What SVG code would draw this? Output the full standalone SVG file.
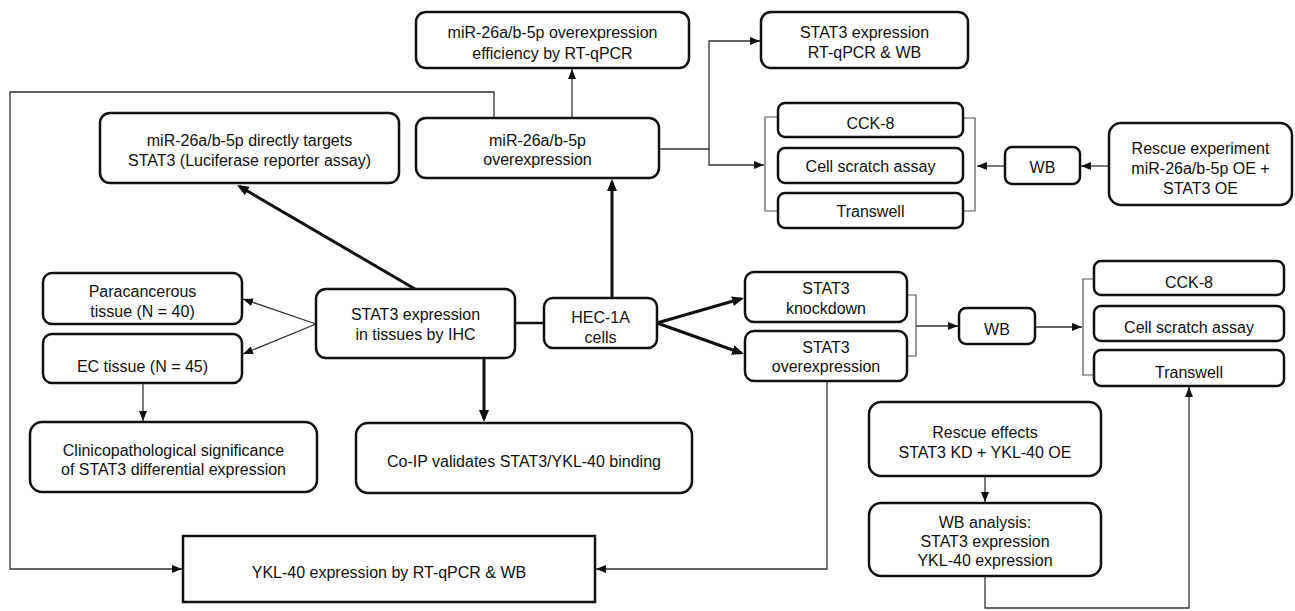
<svg xmlns="http://www.w3.org/2000/svg" width="1295" height="611" viewBox="0 0 1295 611">
  <defs>
    <style>
      .box { fill: #fff; stroke: #111; stroke-width: 2.5; }
      .t { font-family: "Liberation Sans", Arial, Helvetica, sans-serif; font-size: 16px; fill: #111; text-anchor: middle; }
      .ln { fill: none; stroke: #333; stroke-width: 1.3; }
      .lnB { fill: none; stroke: #111; stroke-width: 3; }
      .br { fill: none; stroke: #555; stroke-width: 1.2; }
    </style>
    <marker id="arr" markerUnits="userSpaceOnUse" markerWidth="11" markerHeight="9" refX="10" refY="4" orient="auto">
      <path d="M0,0 L10,4 L0,8 z" fill="#111"/>
    </marker>
    <marker id="arrB" markerUnits="userSpaceOnUse" markerWidth="13" markerHeight="11" refX="9" refY="5" orient="auto">
      <path d="M0,0 L12,5 L0,10 z" fill="#111"/>
    </marker>
  </defs>
  <rect width="1295" height="611" fill="#fff"/>

  <!-- connectors -->
  <g id="connectors">
    <path class="ln" d="M572,118 V69" marker-end="url(#arr)"/>
    <path class="ln" d="M494,118 V92 H10 V569 H182" marker-end="url(#arr)"/>
    <path class="ln" d="M659,149 H709 V41 H760" marker-end="url(#arr)"/>
    <path class="ln" d="M709,149 V165 H764" marker-end="url(#arr)"/>
    <path class="br" d="M778,117 H765 V211 H778"/>
    <path class="br" d="M963,118 H975 V211 H963"/>
    <path class="ln" d="M1005,166 H977" marker-end="url(#arr)"/>
    <path class="ln" d="M1109,166 H1081" marker-end="url(#arr)"/>
    <path class="ln" d="M316,324 L243,299" marker-end="url(#arr)"/>
    <path class="ln" d="M316,324 L243,354" marker-end="url(#arr)"/>
    <path class="ln" d="M143,383 V421" marker-end="url(#arr)"/>
    <path class="lnB" style="stroke-width:2.5" d="M515,323 H544"/>
    <path class="lnB" d="M415,289 L239.6,186.5" marker-end="url(#arrB)"/>
    <path class="lnB" d="M612,298 V182" marker-end="url(#arrB)"/>
    <path class="lnB" d="M657,323 L741.1,298.8" marker-end="url(#arrB)"/>
    <path class="lnB" d="M657,323 L741.2,353" marker-end="url(#arrB)"/>
    <path class="lnB" d="M484,358 V419" marker-end="url(#arrB)"/>
    <path class="br" d="M907,295 H916 V356 H907"/>
    <path class="ln" d="M916,326 H958" marker-end="url(#arr)"/>
    <path class="ln" d="M1035,327 H1082" marker-end="url(#arr)"/>
    <path class="br" d="M1094,279 H1083 V375 H1094"/>
    <path class="ln" d="M827,381 V569 H596" marker-end="url(#arr)"/>
    <path class="ln" d="M985,476 V502" marker-end="url(#arr)"/>
    <path class="ln" d="M985,576 V608 H1189 V387" marker-end="url(#arr)"/>
  </g>

  <!-- nodes -->
  <g id="mir-efficiency">
    <rect class="box" x="416" y="12" width="273" height="56" rx="10"/>
    <text class="t" x="552.5" y="37.5">miR-26a/b-5p overexpression</text>
    <text class="t" x="552.5" y="58.5">efficiency by RT-qPCR</text>
  </g>
  <g id="stat3-expression">
    <rect class="box" x="761" y="12" width="207" height="56" rx="10"/>
    <text class="t" x="864.5" y="37.5">STAT3 expression</text>
    <text class="t" x="864.5" y="57.5">RT-qPCR &amp; WB</text>
  </g>
  <g id="mir-targets">
    <rect class="box" x="100" y="113" width="299" height="70" rx="10"/>
    <text class="t" x="249.5" y="145.5">miR-26a/b-5p directly targets</text>
    <text class="t" x="249.5" y="165.5">STAT3 (Luciferase reporter assay)</text>
  </g>
  <g id="mir-overexpression">
    <rect class="box" x="416" y="118" width="243" height="60" rx="10"/>
    <text class="t" x="537.5" y="145.5">miR-26a/b-5p</text>
    <text class="t" x="537.5" y="164.5">overexpression</text>
  </g>
  <g id="cck8-a">
    <rect class="box" x="778" y="103" width="185" height="34" rx="7"/>
    <text class="t" x="870.5" y="128.5">CCK-8</text>
  </g>
  <g id="scratch-a">
    <rect class="box" x="778" y="148" width="185" height="35" rx="7"/>
    <text class="t" x="870.5" y="171.5">Cell scratch assay</text>
  </g>
  <g id="transwell-a">
    <rect class="box" x="778" y="193" width="185" height="35" rx="7"/>
    <text class="t" x="870.5" y="216.5">Transwell</text>
  </g>
  <g id="wb-a">
    <rect class="box" x="1005" y="147" width="75" height="37" rx="7"/>
    <text class="t" x="1042.5" y="172.5">WB</text>
  </g>
  <g id="rescue-experiment">
    <rect class="box" x="1109" y="123" width="183" height="82" rx="12"/>
    <text class="t" x="1200.5" y="153.5">Rescue experiment</text>
    <text class="t" x="1200.5" y="173.5">miR-26a/b-5p OE +</text>
    <text class="t" x="1200.5" y="193.5">STAT3 OE</text>
  </g>
  <g id="paracancerous">
    <rect class="box" x="43" y="273" width="199" height="51" rx="9"/>
    <text class="t" x="142.5" y="296.5">Paracancerous</text>
    <text class="t" x="142.5" y="316.5">tissue (N = 40)</text>
  </g>
  <g id="ec-tissue">
    <rect class="box" x="43" y="334" width="199" height="49" rx="9"/>
    <text class="t" x="142.5" y="371.5">EC tissue (N = 45)</text>
  </g>
  <g id="ihc">
    <rect class="box" x="316" y="289" width="199" height="69" rx="10"/>
    <text class="t" x="415.5" y="319.5">STAT3 expression</text>
    <text class="t" x="415.5" y="339.5">in tissues by IHC</text>
  </g>
  <g id="hec1a">
    <rect class="box" x="544" y="298" width="113" height="50" rx="9"/>
    <text class="t" x="600.5" y="322.5">HEC-1A</text>
    <text class="t" x="600.5" y="342.5">cells</text>
  </g>
  <g id="stat3-knockdown">
    <rect class="box" x="745" y="272" width="162" height="50" rx="9"/>
    <text class="t" x="826" y="293.5">STAT3</text>
    <text class="t" x="826" y="313.5">knockdown</text>
  </g>
  <g id="stat3-overexpression">
    <rect class="box" x="745" y="331" width="162" height="50" rx="9"/>
    <text class="t" x="826" y="352.5">STAT3</text>
    <text class="t" x="826" y="371.5">overexpression</text>
  </g>
  <g id="wb-b">
    <rect class="box" x="959" y="308" width="76" height="36" rx="7"/>
    <text class="t" x="997" y="334.5">WB</text>
  </g>
  <g id="cck8-b">
    <rect class="box" x="1094" y="261" width="190" height="34" rx="7"/>
    <text class="t" x="1189" y="287.5">CCK-8</text>
  </g>
  <g id="scratch-b">
    <rect class="box" x="1094" y="306" width="190" height="35" rx="7"/>
    <text class="t" x="1189" y="332.5">Cell scratch assay</text>
  </g>
  <g id="transwell-b">
    <rect class="box" x="1094" y="350" width="190" height="36" rx="7"/>
    <text class="t" x="1189" y="377.5">Transwell</text>
  </g>
  <g id="rescue-effects">
    <rect class="box" x="869" y="402" width="232" height="74" rx="12"/>
    <text class="t" x="985" y="437.5">Rescue effects</text>
    <text class="t" x="985" y="457.5">STAT3 KD + YKL-40 OE</text>
  </g>
  <g id="wb-analysis">
    <rect class="box" x="869" y="503" width="232" height="73" rx="12"/>
    <text class="t" x="985" y="527.5">WB analysis:</text>
    <text class="t" x="985" y="546.5">STAT3 expression</text>
    <text class="t" x="985" y="565.5">YKL-40 expression</text>
  </g>
  <g id="clinicopathological">
    <rect class="box" x="30" y="422" width="287" height="70" rx="12"/>
    <text class="t" x="173.5" y="455.5">Clinicopathological significance</text>
    <text class="t" x="173.5" y="474.5">of STAT3 differential expression</text>
  </g>
  <g id="co-ip">
    <rect class="box" x="356" y="423" width="336" height="70" rx="12"/>
    <text class="t" x="524" y="466.5">Co-IP validates STAT3/YKL-40 binding</text>
  </g>
  <g id="ykl40">
    <rect class="box" x="183" y="536" width="412" height="66"/>
    <text class="t" x="389" y="577.5">YKL-40 expression by RT-qPCR &amp; WB</text>
  </g>
</svg>
